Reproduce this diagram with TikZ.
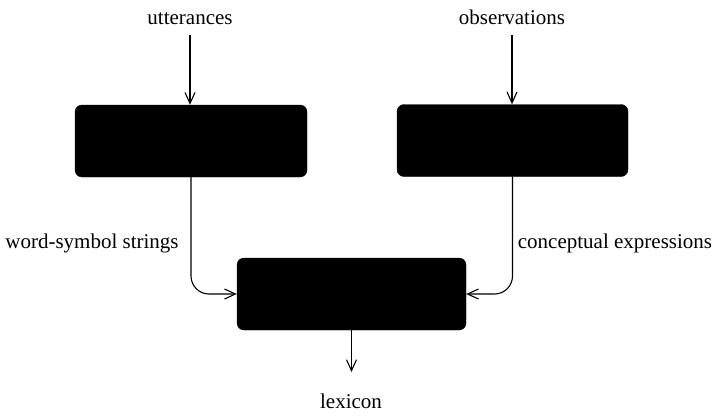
\documentclass[tikz,border=0pt]{standalone}
\usepackage{fontspec}
\setmainfont{Liberation Serif}
\usetikzlibrary{arrows.meta}
\begin{document}
\begin{tikzpicture}[x=1pt,y=-1pt,
  blackbox/.style={fill=black,draw=black,rounded corners=7pt,minimum height=72pt,inner sep=0pt},
  lbl/.style={font=\fontsize{21}{24}\selectfont,inner sep=2pt},
  conn/.style={line width=1.1pt,-{Straight Barb[length=11pt,width=10pt,line width=1.1pt]}}]
\useasboundingbox (0,0) rectangle (717,415);
\node[blackbox,minimum width=232pt] (b1) at (191,141) {};
\node[blackbox,minimum width=231pt] (b2) at (512.5,140.5) {};
\node[blackbox,minimum width=229pt] (b3) at (351.5,294) {};
\node[lbl,anchor=base] (u) at (190,24) {utterances};
\node[lbl,anchor=base] (o) at (512,24) {observations};
\node[lbl,anchor=base] (lex) at (351,408) {lexicon};
\node[lbl] (ws) at (92,243) {word-symbol strings};
\node[lbl] (ce) at (615,243) {conceptual expressions};
\coordinate (lexin) at (351.5,372);
\draw[conn] ([yshift=-9pt]u.south) -- (u.south |- b1.north);
\draw[conn] ([yshift=-9pt]o.south) -- (o.south |- b2.north);
\draw[conn,rounded corners=18pt] (b1.south) |- (b3.west);
\draw[conn,rounded corners=18pt] (b2.south) |- (b3.east);
\draw[conn] (b3.south) -- (lexin);
\end{tikzpicture}
\end{document}
